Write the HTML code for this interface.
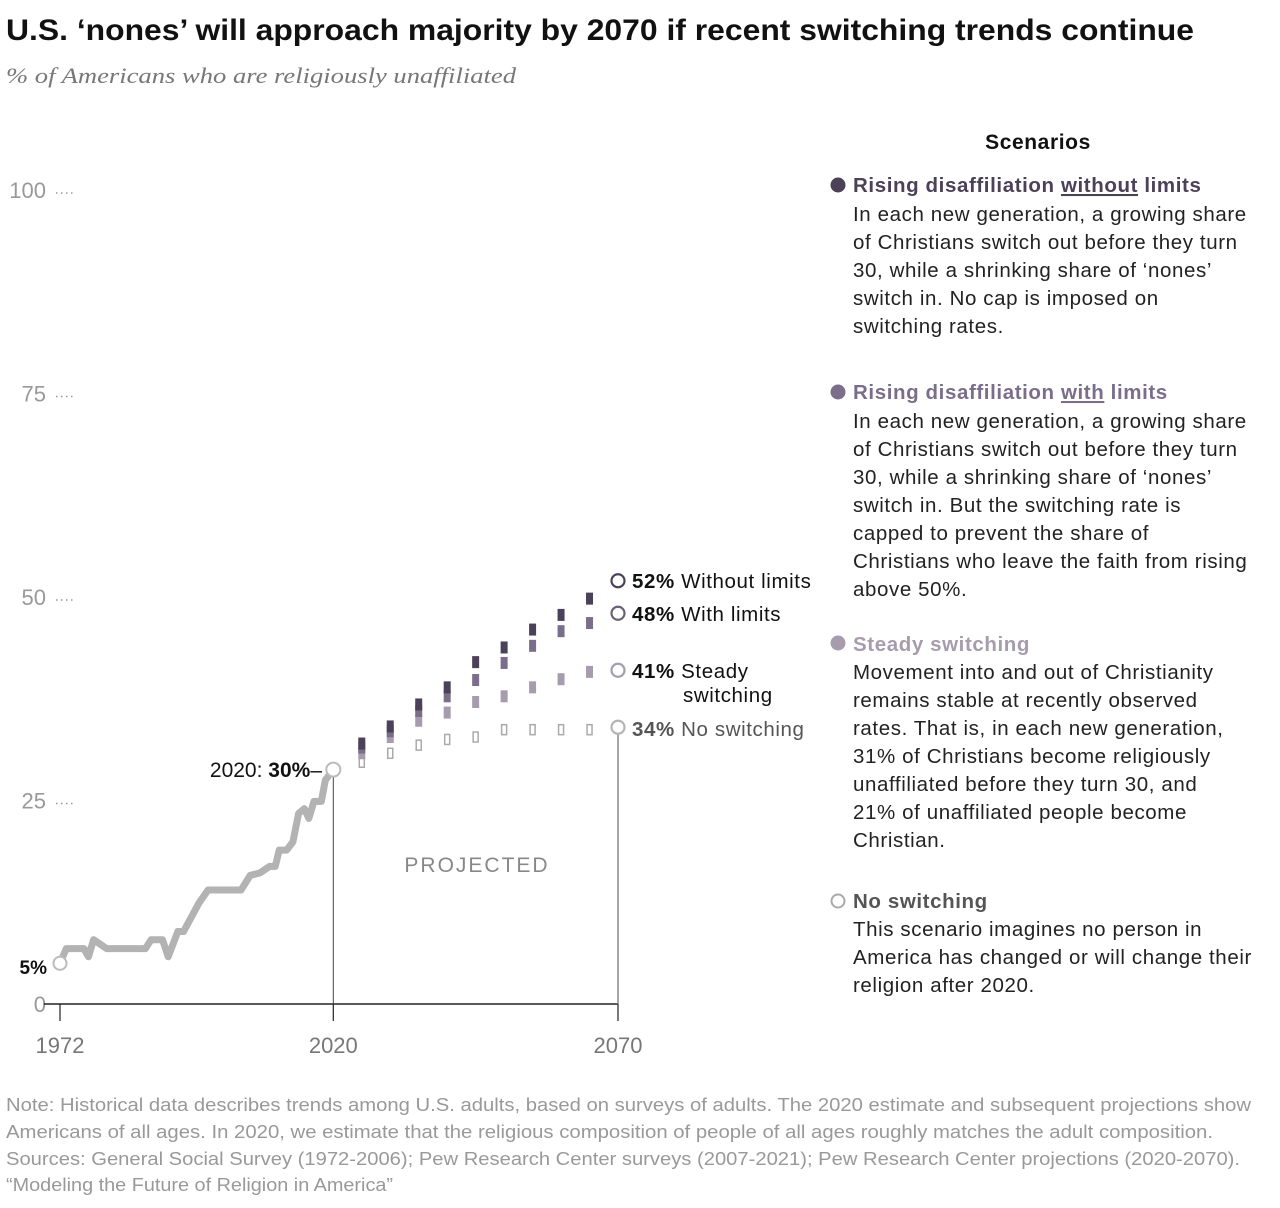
<!DOCTYPE html>
<html><head><meta charset="utf-8">
<style>
body{margin:0;background:#fff;}
svg{display:block;font-family:"Liberation Sans",sans-serif;}
</style></head>
<body>
<svg id="chart" width="1280" height="1208" viewBox="0 0 1280 1208" xmlns="http://www.w3.org/2000/svg">
<text x="6" y="40" font-size="30" font-weight="bold" fill="#111" textLength="1188" lengthAdjust="spacingAndGlyphs">U.S. ‘nones’ will approach majority by 2070 if recent switching trends continue</text>
<text x="6" y="83" font-size="22" font-style="italic" fill="#777" font-family="Liberation Serif,serif" textLength="510" lengthAdjust="spacingAndGlyphs">% of Americans who are religiously unaffiliated</text>
<g id="yaxis"></g>
<g id="plot"></g>
<g id="legend" letter-spacing="0.6">
<text x="1038" y="149" font-size="21" font-weight="bold" fill="#111" text-anchor="middle">Scenarios</text>
<g font-size="20.5" fill="#222">
<circle cx="838" cy="185" r="7.5" fill="#4b4158"/>
<text x="853" y="192" font-weight="bold" fill="#4b4158">Rising disaffiliation <tspan text-decoration="underline">without</tspan> limits</text>
<text x="853" y="221">In each new generation, a growing share</text>
<text x="853" y="249">of Christians switch out before they turn</text>
<text x="853" y="277">30, while a shrinking share of ‘nones’</text>
<text x="853" y="305">switch in. No cap is imposed on</text>
<text x="853" y="333">switching rates.</text>
</g>
<g font-size="20.5" fill="#222">
<circle cx="838" cy="392" r="7.5" fill="#7a6e8a"/>
<text x="853" y="399" font-weight="bold" fill="#7a6e8a">Rising disaffiliation <tspan text-decoration="underline">with</tspan> limits</text>
<text x="853" y="428">In each new generation, a growing share</text>
<text x="853" y="456">of Christians switch out before they turn</text>
<text x="853" y="484">30, while a shrinking share of ‘nones’</text>
<text x="853" y="512">switch in. But the switching rate is</text>
<text x="853" y="540">capped to prevent the share of</text>
<text x="853" y="568">Christians who leave the faith from rising</text>
<text x="853" y="596">above 50%.</text>
</g>
<g font-size="20.5" fill="#222">
<circle cx="838" cy="643" r="7.5" fill="#a69cae"/>
<text x="853" y="651" font-weight="bold" fill="#a69cae">Steady switching</text>
<text x="853" y="679">Movement into and out of Christianity</text>
<text x="853" y="707">remains stable at recently observed</text>
<text x="853" y="735">rates. That is, in each new generation,</text>
<text x="853" y="763">31% of Christians become religiously</text>
<text x="853" y="791">unaffiliated before they turn 30, and</text>
<text x="853" y="819">21% of unaffiliated people become</text>
<text x="853" y="847">Christian.</text>
</g>
<g font-size="20.5" fill="#222">
<circle cx="838" cy="901" r="6.5" fill="#fff" stroke="#aaa" stroke-width="2"/>
<text x="853" y="908" font-weight="bold" fill="#555">No switching</text>
<text x="853" y="936">This scenario imagines no person in</text>
<text x="853" y="964">America has changed or will change their</text>
<text x="853" y="992">religion after 2020.</text>
</g>
</g>
<g font-size="18" fill="#999">
<text x="6" y="1111" textLength="1245" lengthAdjust="spacingAndGlyphs">Note: Historical data describes trends among U.S. adults, based on surveys of adults. The 2020 estimate and subsequent projections show</text>
<text x="6" y="1138" textLength="1207" lengthAdjust="spacingAndGlyphs">Americans of all ages. In 2020, we estimate that the religious composition of people of all ages roughly matches the adult composition.</text>
<text x="6" y="1165" textLength="1234" lengthAdjust="spacingAndGlyphs">Sources: General Social Survey (1972-2006); Pew Research Center surveys (2007-2021); Pew Research Center projections (2020-2070).</text>
<text x="6" y="1191" textLength="387" lengthAdjust="spacingAndGlyphs">“Modeling the Future of Religion in America”</text>
</g>
</svg>
<script>
const yTicks = [0, 25, 50, 75, 100];
const xTicks = [1972, 2020, 2070];
const histYears = [1972,1973.1,1976.2,1977,1977.9,1980.2,1987,1988,1990,1991,1992.7,1993.7,1996.4,1998,2003.8,2005.4,2007.1,2008.8,2009.8,2010.5,2011.8,2012.9,2013.9,2014.9,2015.7,2016.6,2017.9,2018.6,2020];
const histValues = [5,6.8,6.8,5.8,7.9,6.8,6.8,7.9,7.9,5.8,8.9,8.9,12.4,14.0,14.0,15.8,16.1,16.9,16.9,18.9,18.9,19.9,23.4,24.0,22.8,24.9,24.9,27.5,28.8];
const projYears = [2025,2030,2035,2040,2045,2050,2055,2060,2065];
const withoutLimits = [32.0,34.1,36.8,38.9,42.0,43.8,46.0,47.8,49.8];
const withLimits = [31.5,33.5,36.0,37.8,39.8,41.9,44.0,45.8,46.8];
const steady = [30.8,32.8,34.8,35.8,37.1,37.8,38.9,39.9,40.8];
const noSwitching = [29.7,30.8,31.8,32.5,32.8,33.7,33.7,33.7,33.7];
const endValues = [52, 48, 41, 34];
const endLabels = ["52%", "48%", "41%", "34%"];

const NS = "http://www.w3.org/2000/svg";
const X = yr => 60 + (yr - 1972) * (558 / 98);
const Y = v => 1004 - v * 8.14;
function mk(tag, attrs, parent){const e=document.createElementNS(NS,tag);for(const k in attrs)e.setAttribute(k,attrs[k]);parent.appendChild(e);return e;}
const yaxis=document.getElementById('yaxis'), plot=document.getElementById('plot');

yTicks.forEach(t=>{
  const tx=mk('text',{x:46,y:Y(t)+8,'font-size':22,fill:'#999','text-anchor':'end'},yaxis);
  tx.textContent=t;
  
  
  if(t>0){const d=mk('line',{x1:56,x2:76,y1:Y(t)+3,y2:Y(t)+3,stroke:'#999','stroke-dasharray':'1.5,3.5','stroke-width':1.5},yaxis);
  
  }
});
const base=mk('line',{x1:44,x2:X(2070),y1:Y(0),y2:Y(0),stroke:'#222','stroke-width':1.5},plot);


xTicks.forEach(t=>{
  const l=mk('line',{x1:X(t),x2:X(t),y1:Y(0),y2:Y(0)+17,stroke:'#222','stroke-width':1.2},plot);
  
  
  const tx=mk('text',{x:X(t),y:1053,'font-size':22,fill:'#777','text-anchor':'middle'},plot);
  tx.textContent=t;
  
  
});
const v1=mk('line',{x1:X(2020),x2:X(2020),y1:Y(histValues[histValues.length-1]),y2:Y(0),stroke:'#444','stroke-width':1},plot);


const v2=mk('line',{x1:X(2070),x2:X(2070),y1:Y(endValues[3]),y2:Y(0),stroke:'#888','stroke-width':1.5},plot);



const proj=mk('text',{x:477,y:872,'font-size':21,fill:'#888','text-anchor':'middle','letter-spacing':2},plot);
proj.textContent='PROJECTED';



const hist=mk('polyline',{points:histYears.map((y,i)=>X(y)+','+Y(histValues[i])).join(' '),fill:'none',stroke:'#b3b3b3','stroke-width':7,'stroke-linejoin':'round'},plot);



const series=[[noSwitching,'outline'],[steady,'#a69cae'],[withLimits,'#7a6e8a'],[withoutLimits,'#4b4158']];
series.forEach(([vals,c])=>{
  vals.forEach((v,i)=>{
    const attrs={x:X(projYears[i])-3.5,y:Y(v)-6,width:7,height:12};
    if(c==='outline'){attrs.x+=1;attrs.y+=1;attrs.width=5;attrs.height=10;attrs.fill='#fff';attrs.stroke='#aaa';attrs['stroke-width']=1.5;}
    else attrs.fill=c;
    const r=mk('rect',attrs,plot);
    
    
  });
});

const c1=mk('circle',{cx:X(1972),cy:Y(histValues[0]),r:6.5,fill:'#fff',stroke:'#bbb','stroke-width':2},plot);


const c2=mk('circle',{cx:X(2020),cy:Y(histValues[histValues.length-1]),r:7,fill:'#fff',stroke:'#bbb','stroke-width':2},plot);


const l5=mk('text',{x:47,y:974,'font-size':19,'font-weight':'bold',fill:'#111','text-anchor':'end'},plot);
l5.textContent='5%';


const l20=mk('text',{x:322,y:777,'font-size':21,fill:'#111','text-anchor':'end'},plot);
l20.innerHTML='2020: <tspan font-weight="bold">30%</tspan>–';



const endColors=['#4b4158','#6a607a','#a69cae','#b5b5b5'];
const endNames=['Without limits','With limits','Steady','No switching'];
const labelY=[581,614,671,729];
endValues.forEach((v,i)=>{
  const c=mk('circle',{cx:X(2070),cy:Y(v),r:6.5,fill:'#fff',stroke:endColors[i],'stroke-width':2.2},plot);
  
  
  const t=mk('text',{x:632,y:labelY[i]+7,'font-size':20.5,'letter-spacing':0.6,fill:i===3?'#555':'#111'},plot);
  t.innerHTML='<tspan font-weight="bold">'+endLabels[i]+'</tspan> '+endNames[i];
  
  
});
const sw=mk('text',{x:683,y:702,'font-size':20.5,'letter-spacing':0.6,fill:'#111'},plot);
sw.textContent='switching';


</script>
</body></html>
